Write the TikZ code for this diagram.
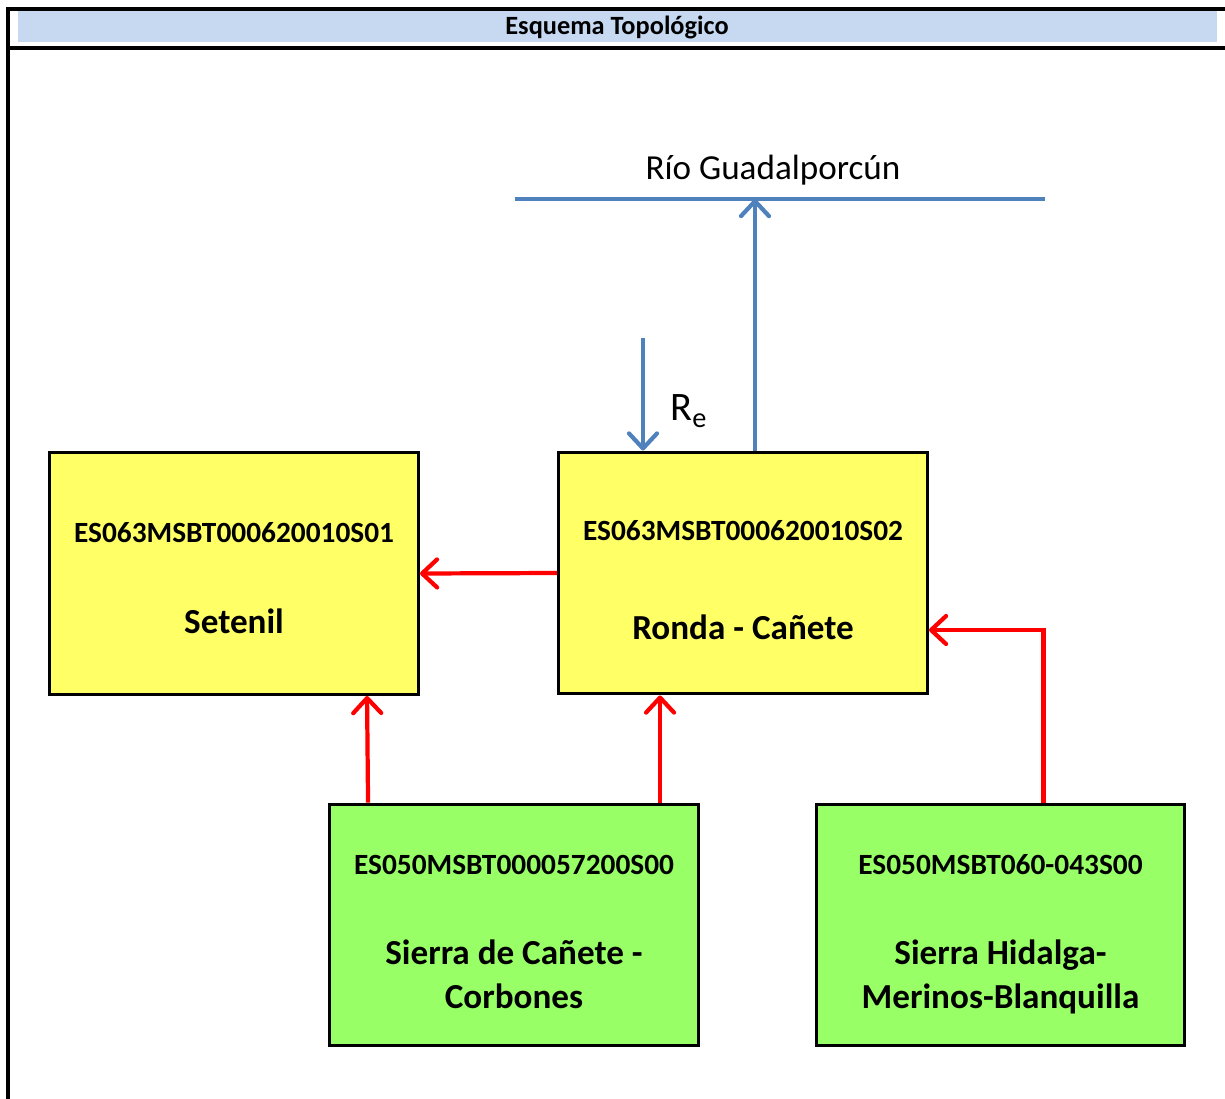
\documentclass[tikz,border=0pt]{standalone}
\usepackage{fontspec}
\setmainfont{Carlito}
\usetikzlibrary{arrows.meta, calc}

\definecolor{headblue}{HTML}{C6D9F1}
\definecolor{boxyellow}{HTML}{FFFF66}
\definecolor{boxgreen}{HTML}{99FF66}
\definecolor{riverblue}{HTML}{4F81BD}

\tikzset{
  masabox/.style={draw, line width=1.7pt, rectangle, minimum width=7.38cm, minimum height=4.84cm},
  codetext/.style={font=\bfseries\fontsize{16.7}{20}\selectfont},
  nametext/.style={font=\bfseries\fontsize{20}{25}\selectfont, align=center},
  redarrow/.style={draw=red, line width=2.4pt, -{Straight Barb[length=3mm, width=5.6mm, round]}},
  bluearrow/.style={draw=riverblue, line width=2.4pt, -{Straight Barb[length=3mm, width=5.6mm, round]}}
}

\begin{document}
\begin{tikzpicture}[x=0.02cm, y=-0.02cm]
  \useasboundingbox (0,0) rectangle (1225,1099);

  % Header
  \fill[headblue] (18,11) rectangle (1217,42);
  \node[font=\bfseries\fontsize{15}{18}\selectfont] (title) at (617,27) {Esquema Topológico};
  \draw[line width=1.8pt] (8,1099) -- (8,9) -- (1225,9);
  \draw[line width=1.8pt] (8,48) -- (1225,48);

  % River
  \coordinate (riverw) at (515,199);
  \coordinate (rivere) at (1045,199);
  \coordinate (outlet) at (755,199);
  \draw[riverblue, line width=2.4pt] (riverw) -- (rivere);
  \node[font=\fontsize{20}{24}\selectfont] (rivername) at (773,170) {Río Guadalporcún};

  % Boxes
  \node[masabox, fill=boxyellow] (setenil) at (234,573.5) {};
  \node[codetext] (setenilcode) at ($(setenil.north)+(0,82)$) {ES063MSBT000620010S01};
  \node[nametext] (setenilname) at ($(setenil.north)+(0,170)$) {Setenil};

  \node[masabox, fill=boxyellow] (ronda) at (743,573) {};
  \node[codetext] (rondacode) at ($(ronda.north)+(0,80)$) {ES063MSBT000620010S02};
  \node[nametext] (rondaname) at ($(ronda.north)+(0,177)$) {Ronda - Cañete};

  \node[masabox, fill=boxgreen] (canete) at (514,925) {};
  \node[codetext] (canetecode) at ($(canete.north)+(0,62)$) {ES050MSBT000057200S00};
  \node[nametext] (canetename) at ($(canete.north)+(0,172)$) {Sierra de Cañete -\\Corbones};

  \node[masabox, fill=boxgreen] (hidalga) at (1000.5,925) {};
  \node[codetext] (hidalgacode) at ($(hidalga.north)+(0,62)$) {ES050MSBT060-043S00};
  \node[nametext] (hidalganame) at ($(hidalga.north)+(0,174)$) {Sierra Hidalga-\\Merinos-Blanquilla};

  % Recharge and outflow
  \coordinate (retop) at (643,338);
  \draw[bluearrow] (retop) -- (retop |- ronda.north);
  \node[font=\fontsize{23}{27}\selectfont] (relabel) at (689,411) {R\textsubscript{e}};
  \draw[bluearrow] (outlet |- ronda.north) -- (outlet);

  % Flows
  \draw[redarrow] (ronda.west) -- (setenil.east);
  \draw[redarrow] ($(canete.north west)+(40,0)$) -- ($(setenil.south west)+(319,0)$);
  \draw[redarrow] ($(canete.north west)+(332,0)$) -- ($(ronda.south west)+(103,0)$);
  \draw[redarrow] ($(hidalga.north west)+(229,0)$) |- ($(ronda.east)+(0,57)$);
\end{tikzpicture}
\end{document}
